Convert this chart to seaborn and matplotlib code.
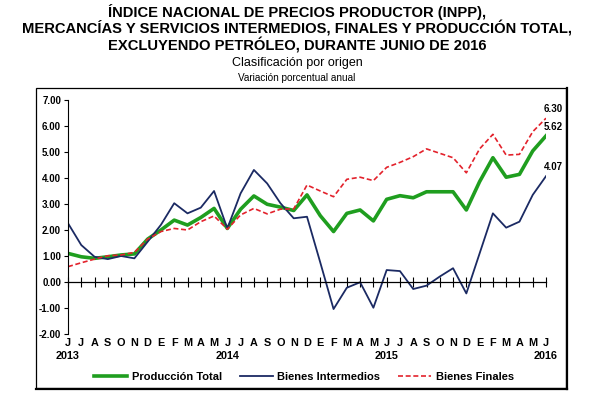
import numpy as np
import pandas as pd
import seaborn as sns
import matplotlib.pyplot as plt
from matplotlib.patches import Rectangle
from matplotlib.lines import Line2D

# data, jun 2013 - jun 2016 -------------------------------------------------
months = ["J", "J", "A", "S", "O", "N", "D",
          "E", "F", "M", "A", "M", "J", "J", "A", "S", "O", "N", "D",
          "E", "F", "M", "A", "M", "J", "J", "A", "S", "O", "N", "D",
          "E", "F", "M", "A", "M", "J"]
years = {0: "2013", 12: "2014", 24: "2015", 36: "2016"}

produccion_total = [1.10, 0.97, 0.91, 0.97, 1.04, 1.08, 1.65, 2.00, 2.38, 2.19, 2.48, 2.83,
                    2.06, 2.80, 3.31, 2.99, 2.88, 2.75, 3.35, 2.55, 1.94, 2.64, 2.77, 2.35,
                    3.18, 3.32, 3.24, 3.47, 3.47, 3.47, 2.77, 3.86, 4.78, 4.03, 4.14, 5.04, 5.62]
bienes_intermedios = [2.26, 1.42, 0.97, 0.88, 1.00, 0.91, 1.55, 2.20, 3.03, 2.64, 2.86, 3.50,
                      2.06, 3.41, 4.31, 3.79, 3.03, 2.45, 2.51, 0.75, -1.04, -0.22, -0.01, -0.99,
                      0.46, 0.42, -0.27, -0.14, 0.21, 0.53, -0.44, 1.10, 2.64, 2.09, 2.32, 3.35, 4.07]
bienes_finales = [0.59, 0.74, 0.88, 1.01, 1.04, 1.14, 1.65, 1.94, 2.06, 2.00, 2.32, 2.54,
                  2.03, 2.58, 2.83, 2.62, 2.80, 2.81, 3.73, 3.50, 3.28, 3.95, 4.03, 3.90,
                  4.41, 4.60, 4.82, 5.12, 4.95, 4.78, 4.20, 5.12, 5.68, 4.88, 4.91, 5.78, 6.30]

series = [
    ("Producción Total", produccion_total, "#1f9e1f", "-", 2.6),
    ("Bienes Intermedios", bienes_intermedios, "#1b2a63", "-", 1.3),
    ("Bienes Finales", bienes_finales, "#e3222c", (0, (3, 1.6)), 1.2),
]

df = pd.DataFrame({"mes": np.arange(len(months))})

plt.rcParams["font.family"] = ["Liberation Sans", "DejaVu Sans"]
fig = plt.figure(figsize=(5.94, 4.03), dpi=100)
W, H = 594, 403
ax = fig.add_axes([68 / W, 1 - 334 / H, (546 - 68) / W, (334 - 100) / H])

for name, vals, color, ls, lw in series:
    sns.lineplot(x=df["mes"], y=vals, ax=ax, color=color, linewidth=lw,
                 linestyle=ls, label=name, legend=False)

# value labels at the last month
for vals in (bienes_finales, produccion_total, bienes_intermedios):
    ax.annotate(f"{vals[-1]:.2f}", (len(vals) - 1, vals[-1]), xytext=(5, 3),
                textcoords="offset points", ha="center", va="bottom",
                fontsize=7, fontweight="bold")

ax.set_xlim(0, len(months) - 1)
ax.set_ylim(-2, 7)
ax.set_yticks(np.arange(-2, 8, 1))
ax.set_yticklabels([f"{v:.2f}" for v in np.arange(-2, 8, 1)], fontsize=7, fontweight="bold")
ax.tick_params(axis="y", length=3, width=0.8, pad=2)

for s in ("top", "right"):
    ax.spines[s].set_visible(False)
ax.spines["left"].set_linewidth(0.8)
ax.spines["bottom"].set_position(("data", 0))
ax.spines["bottom"].set_linewidth(0.9)
ax.set_xticks(df["mes"])
ax.set_xticklabels([])
ax.tick_params(axis="x", direction="inout", length=7, width=0.8)
ax.set_xlabel("")
ax.set_ylabel("")

# month labels along the bottom of the plot, years below them
sec = ax.secondary_xaxis(0.0)
sec.set_xticks(df["mes"])
sec.set_xticklabels(months, fontsize=7.8, fontweight="bold")
sec.tick_params(length=0, pad=3)
sec.spines["bottom"].set_visible(False)
for i, yr in years.items():
    ax.text(i, -0.095, yr, transform=ax.get_xaxis_transform(), ha="center", va="center",
            fontsize=7.8, fontweight="bold")

handles, labels = ax.get_legend_handles_labels()
fig.legend(handles, labels, loc="center", bbox_to_anchor=(304 / W, 1 - 377 / H), ncol=3,
           frameon=False, prop={"size": 8, "weight": "bold"}, handlelength=3.0,
           columnspacing=1.6, handletextpad=0.4)

# outer frame, heavier right and bottom edges
L, R, T, B = 36 / W, 566 / W, 1 - 88 / H, 1 - 388 / H
fig.add_artist(Rectangle((L, B), R - L, T - B, transform=fig.transFigure, fill=False,
                         edgecolor="black", linewidth=0.9))
fig.add_artist(Line2D([R + 1 / W, R + 1 / W], [B - 1 / H, T], transform=fig.transFigure,
                      color="black", linewidth=1.6))
fig.add_artist(Line2D([L, R + 1 / W], [B - 1 / H, B - 1 / H], transform=fig.transFigure,
                      color="black", linewidth=1.6))

fig.text(0.5, 1 - 12 / H, "ÍNDICE NACIONAL DE PRECIOS PRODUCTOR (INPP),", ha="center",
         va="center", fontsize=10.6, fontweight="bold")
fig.text(0.5, 1 - 29 / H, "MERCANCÍAS Y SERVICIOS INTERMEDIOS, FINALES Y PRODUCCIÓN TOTAL,",
         ha="center", va="center", fontsize=10.6, fontweight="bold")
fig.text(0.5, 1 - 45.5 / H, "EXCLUYENDO PETRÓLEO, DURANTE JUNIO DE 2016", ha="center",
         va="center", fontsize=10.6, fontweight="bold")
fig.text(0.5, 1 - 63 / H, "Clasificación por origen", ha="center", va="center", fontsize=9)
fig.text(0.5, 1 - 78 / H, "Variación porcentual anual", ha="center", va="center", fontsize=7.2)

fig.savefig("out.png", dpi=100)
